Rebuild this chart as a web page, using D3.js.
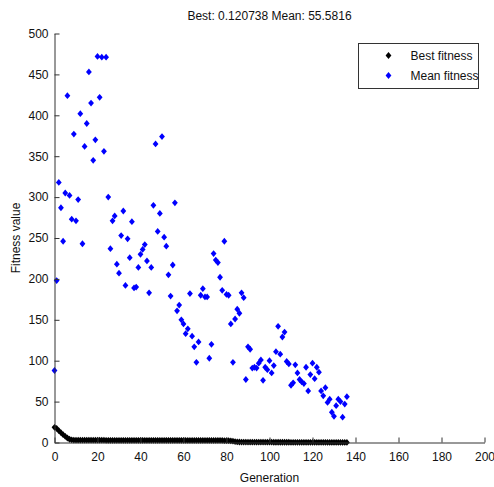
<!DOCTYPE html>
<html>
<head>
<meta charset="utf-8">
<script src="https://cdn.jsdelivr.net/npm/d3@7"></script>
<style>
body { margin: 0; background: #fff; }
text { font-family: "Liberation Sans", Arial, sans-serif; }
</style>
</head>
<body>
<script>
// mean fitness per generation (gen 0..136)
var meanFitness = [88, 198, 318, 287, 246, 305, 424, 302, 273, 377,
	271, 297, 402, 243, 362, 390, 453, 415, 345, 370,
	472, 422, 471, 356, 471, 300, 237, 271, 277, 218,
	207, 253, 283, 192, 249, 226, 270, 189, 190, 214,
	230, 236, 242, 222, 183, 214, 290, 365, 258, 280,
	374, 251, 240, 205, 179, 217, 293, 161, 168, 150,
	145, 133, 139, 182, 130, 117, 98, 123, 180, 188,
	178, 178, 103, 120, 231, 223, 220, 202, 186, 246,
	181, 180, 145, 98, 151, 163, 158, 183, 177, 77,
	117, 114, 91, 92, 91, 97, 101, 76, 92, 89,
	100, 85, 94, 111, 142, 108, 129, 135, 99, 96,
	70, 73, 95, 85, 77, 74, 72, 92, 63, 83,
	97, 78, 92, 86, 63, 57, 67, 49, 53, 37,
	32, 45, 53, 50, 31, 47, 56];

// best fitness per generation (gen 0..136)
var bestFitness = [18.5, 17.2, 14.5, 12, 9.6, 7.5, 5.5, 4, 3.3, 3,
	2.9, 2.9, 2.9, 2.8, 2.8, 2.8, 2.8, 2.8, 2.8, 2.8,
	2.8, 2.8, 2.8, 2.8, 2.7, 2.7, 2.7, 2.7, 2.7, 2.7,
	2.7, 2.7, 2.7, 2.7, 2.7, 2.7, 2.7, 2.7, 2.7, 2.7,
	2.7, 2.6, 2.6, 2.6, 2.6, 2.6, 2.6, 2.6, 2.6, 2.6,
	2.6, 2.6, 2.6, 2.6, 2.6, 2.6, 2.6, 2.6, 2.6, 2.6,
	2.6, 2.5, 2.5, 2.5, 2.5, 2.5, 2.5, 2.5, 2.5, 2.5,
	2.5, 2.5, 2.5, 2.5, 2.5, 2.5, 2.5, 2.5, 2.5, 2.4,
	2.3, 2.2, 2.0, 1.6, 1.1, 0.7, 0.6, 0.55, 0.5, 0.5,
	0.45, 0.45, 0.45, 0.4, 0.4, 0.4, 0.4, 0.4, 0.35, 0.35,
	0.35, 0.35, 0.3, 0.3, 0.3, 0.3, 0.3, 0.3, 0.28, 0.28,
	0.26, 0.26, 0.25, 0.25, 0.24, 0.24, 0.22, 0.22, 0.2, 0.2,
	0.2, 0.18, 0.18, 0.17, 0.17, 0.16, 0.16, 0.15, 0.15, 0.14,
	0.14, 0.13, 0.13, 0.13, 0.125, 0.122, 0.120738];

var xTicks = [0, 20, 40, 60, 80, 100, 120, 140, 160, 180, 200];
var yTicks = [0, 50, 100, 150, 200, 250, 300, 350, 400, 450, 500];
var legendLabels = ["Best fitness", "Mean fitness"];
var legendColors = ["#000000", "#0000ff"];
var titleText = "Best: 0.120738 Mean: 55.5816";

var width = 494,
	height = 487;

var svg = d3.select("body")
			.append("svg")
			.attr("width", width)
			.attr("height", height);

svg.append("rect")
	.attr("width", width)
	.attr("height", height)
	.attr("fill", "#fff");

var x = d3.scaleLinear()
		.domain([0, 200])
		.range([54.5, 484.5]);
var y = d3.scaleLinear()
		.domain([0, 500])
		.range([442.5, 33.5]);

var diamond = "M0,-3.4L2.9,0L0,3.4L-2.9,0Z";

// best fitness
svg.append("g")
	.selectAll("path")
	.data(bestFitness)
	.enter()
	.append("path")
		.attr("d", diamond)
		.attr("transform", function(d,i) { return "translate("+x(i)+","+y(d)+")"; })
		.attr("fill", legendColors[0]);

// mean fitness
svg.append("g")
	.selectAll("path")
	.data(meanFitness)
	.enter()
	.append("path")
		.attr("d", diamond)
		.attr("transform", function(d,i) { return "translate("+x(i)+","+y(d)+")"; })
		.attr("fill", legendColors[1]);

// axes (ticks point inward like matlab)
var xAxis = svg.append("g")
	.attr("transform", "translate(0,442.5)")
	.call(d3.axisBottom(x).tickValues(xTicks).tickSize(0).tickPadding(10));
xAxis.selectAll(".tick line").remove();
xAxis.selectAll(".tick")
	.append("line")
		.attr("y1", 0)
		.attr("y2", -5)
		.attr("stroke", "#333");

var yAxis = svg.append("g")
	.attr("transform", "translate(54.5,0)")
	.call(d3.axisLeft(y).tickValues(yTicks).tickSize(0).tickPadding(6));
yAxis.selectAll(".tick line").remove();
yAxis.selectAll(".tick")
	.append("line")
		.attr("x1", 0)
		.attr("x2", 5)
		.attr("stroke", "#333");

svg.selectAll(".domain").attr("stroke", "#333");
svg.selectAll(".tick text")
	.attr("font-size", 12)
	.attr("font-family", "Liberation Sans, Arial, sans-serif")
	.attr("fill", "#111");

// labels
svg.append("text")
	.attr("x", 269.5)
	.attr("y", 20)
	.attr("font-size", 12)
	.attr("fill", "#111")
	.style("text-anchor", "middle")
	.text(titleText);

svg.append("text")
	.attr("x", 269.5)
	.attr("y", 482)
	.attr("font-size", 12)
	.attr("fill", "#111")
	.style("text-anchor", "middle")
	.text("Generation");

svg.append("text")
	.attr("transform", "translate(20,238) rotate(-90)")
	.attr("font-size", 12)
	.attr("fill", "#111")
	.style("text-anchor", "middle")
	.text("Fitness value");

// legend
var legend = svg.append("g")
	.attr("transform", "translate(358.5,43.5)");
legend.append("rect")
	.attr("width", 120)
	.attr("height", 45)
	.attr("fill", "#fff")
	.attr("stroke", "#333");
var items = legend.selectAll(".item")
	.data(legendLabels)
	.enter()
	.append("g")
		.attr("class", "item")
		.attr("transform", function(d,i) { return "translate(0,"+(12+i*20)+")"; });
items.append("path")
	.attr("d", diamond)
	.attr("transform", "translate(30,0)")
	.attr("fill", function(d,i) { return legendColors[i]; });
items.append("text")
	.attr("x", 52)
	.attr("y", 4)
	.attr("font-size", 12)
	.attr("fill", "#111")
	.text(function(d) { return d; });
</script>
</body>
</html>
